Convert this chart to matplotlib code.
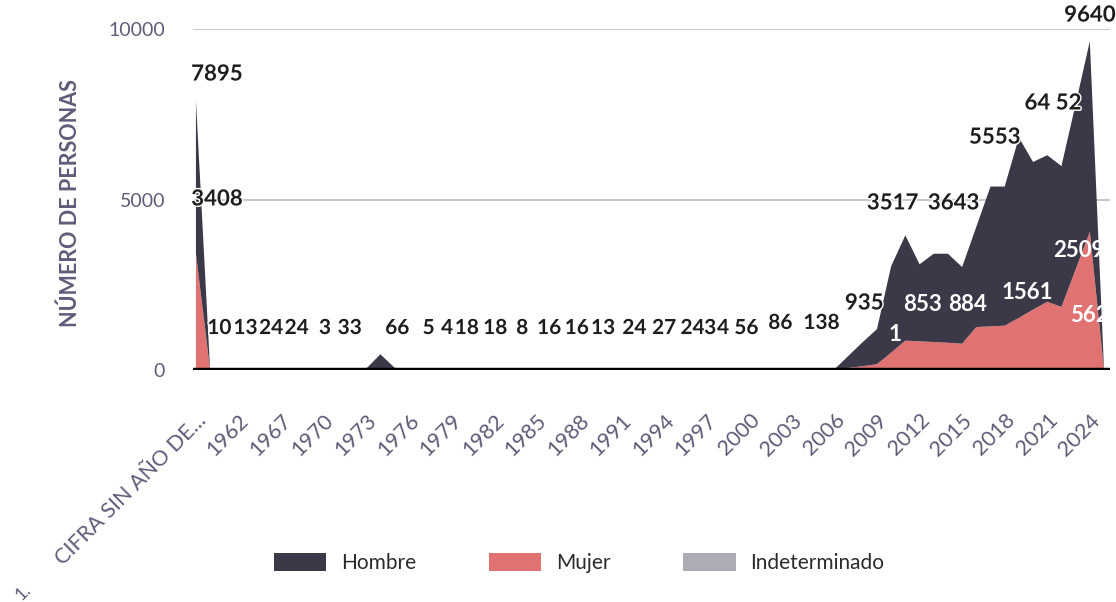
import matplotlib
matplotlib.use("Agg")
import matplotlib.pyplot as plt
import matplotlib.patheffects as pe
from matplotlib.patches import Patch
from matplotlib.transforms import ScaledTranslation

plt.rcParams['font.family'] = ['Lato', 'DejaVu Sans']

# categorias: la primera es la cifra sin año, luego los años con registros
categorias = ['CIFRA SIN AÑO DE...', '1958', '1960', '1962', '1964', '1965', '1967'] + \
    [str(a) for a in range(1968, 2026)]

hombre = [4487, 10, 10, 12, 13, 20, 17, 19, 8, 3,
          19, 28, 34, 420, 58, 27, 5, 10, 4, 16,
          12, 15, 10, 7, 11, 14, 11, 13, 9, 11,
          17, 20, 19, 23, 17, 20, 3, 3, 12, 20,
          18, 25, 20, 22, 30, 15, 360, 710, 1030, 2540,
          3090, 2260, 2590, 2610, 2250, 2940, 4100, 4080, 5290, 4330,
          4300, 4130, 4850, 5590, 20]
mujer = [3408, 2, 0, 3, 0, 4, 3, 5, 1, 0,
         2, 5, 6, 40, 8, 3, 0, 2, 0, 2,
         2, 3, 1, 1, 2, 2, 1, 3, 1, 2,
         2, 4, 3, 4, 3, 4, 0, 1, 3, 5,
         4, 6, 5, 6, 8, 5, 60, 110, 170, 510,
         860, 840, 820, 800, 770, 1260, 1280, 1300, 1530, 1770,
         2000, 1850, 2950, 4050, 10]
indeterminado = [0, 0, 0, 0, 0, 0, 0, 0, 0, 0,
                 0, 0, 0, 0, 0, 0, 0, 0, 0, 0,
                 0, 0, 0, 0, 0, 0, 0, 0, 0, 0,
                 0, 0, 0, 0, 0, 0, 0, 0, 0, 0,
                 0, 0, 0, 0, 0, 0, 0, 0, 0, 0,
                 0, 0, 0, 0, 0, 0, 0, 0, 0, 0,
                 0, 0, 0, 0, 0]

# etiquetas de datos tal como aparecen en el grafico
etiq_txt = ['7895', '3408', '10', '13', '24', '24', '3', '33', '66', '5', '4', '18',
            '18', '8', '16', '16', '13', '24', '27', '24', '3', '4', '56', '86', '138',
            '935', '3517', '3643', '5553', '64 52', '9640',
            '1', '853', '884', '1561', '2509', '562']
etiq_x = [1.48, 1.48, 1.65, 3.5, 5.3, 7.1, 9.1, 10.85, 14.2, 16.4, 17.7, 19.1,
          21.1, 23.0, 24.9, 26.85, 28.7, 30.9, 33.0, 35.0, 36.25, 37.15, 38.8, 41.2, 44.1,
          47.1, 49.1, 53.4, 56.3, 60.4, 63.0,
          49.3, 51.2, 54.4, 58.6, 62.2, 63.0]
etiq_y = [8680, 5015, 1230, 1230, 1230, 1230, 1230, 1230, 1230, 1230, 1230, 1230,
          1230, 1230, 1230, 1230, 1230, 1230, 1230, 1230, 1230, 1230, 1230, 1380, 1380,
          1965, 4900, 4900, 6830, 7830, 10410,
          1055, 1935, 1935, 2260, 3490, 1610]
etiq_blanca = [False] * 31 + [True] * 6

c_hombre = '#3b3848'
c_mujer = '#e07372'
c_indet = '#aeabb5'
c_ejes = '#5f5b78'

fig = plt.figure(figsize=(11.16, 6.02), dpi=100)
ax = fig.add_axes([0.1729, 0.3854, 0.8217, 0.5664])

x = list(range(len(categorias)))
ax.stackplot(x, indeterminado, mujer, hombre, colors=[c_indet, c_mujer, c_hombre],
             linewidth=0, zorder=2)

ax.set_xlim(-0.21, 64.42)
ax.set_ylim(0, 10000)
for v in [5000, 10000]:
    ax.axhline(v, color='#c9c8d1', lw=1.5, zorder=1)
ax.axhline(0, color='black', lw=3.2, zorder=4)

for s in ax.spines.values():
    s.set_visible(False)

ax.set_yticks([0, 5000, 10000])
ax.set_yticklabels(['0', '5000', '10000'])
ax.tick_params(axis='y', length=0, pad=20, labelsize=14, labelcolor=c_ejes)

ticks = x[::3]
ax.set_xticks(ticks)
ax.set_xticklabels([categorias[i] for i in ticks], rotation=45, ha='right', va='center',
                   rotation_mode='anchor')
ax.tick_params(axis='x', length=0, pad=34, labelsize=15.5, labelcolor=c_ejes)
desplaza = ScaledTranslation(7 / 100, 0, fig.dpi_scale_trans)
for lab in ax.get_xticklabels():
    lab.set_transform(lab.get_transform() + desplaza)

for t, xi, yi, bl in zip(etiq_txt, etiq_x, etiq_y, etiq_blanca):
    tam = 15 if yi < 1500 and not bl else 16
    if bl:
        ax.text(xi, yi, t, ha='center', va='center', fontsize=tam, fontweight='bold',
                color='white', zorder=6, clip_on=False)
    else:
        ax.text(xi, yi, t, ha='center', va='center', fontsize=tam, fontweight='bold',
                color='#1e1e1e', zorder=6, clip_on=False,
                path_effects=[pe.withStroke(linewidth=2, foreground='white')])

fig.text(70 / 1116, 1 - 203 / 602, 'NÚMERO DE PERSONAS', rotation=90, ha='center',
         va='center', fontsize=15.5, fontweight='bold', color=c_ejes)
fig.text(23 / 1116, 1 - 592 / 602, '1.', rotation=45, ha='center', va='center',
         fontsize=13, color=c_ejes)

handles = [Patch(facecolor=c_hombre), Patch(facecolor=c_mujer), Patch(facecolor=c_indet)]
leg = fig.legend(handles, ['Hombre', 'Mujer', 'Indeterminado'], loc='center',
                 bbox_to_anchor=(0.519, 0.065), ncol=3, frameon=False,
                 handlelength=2.5, handleheight=1.0, handletextpad=0.72,
                 columnspacing=3.5, fontsize=15)
for t in leg.get_texts():
    t.set_color('#2b2b2b')

fig.savefig('out.png', dpi=100)
